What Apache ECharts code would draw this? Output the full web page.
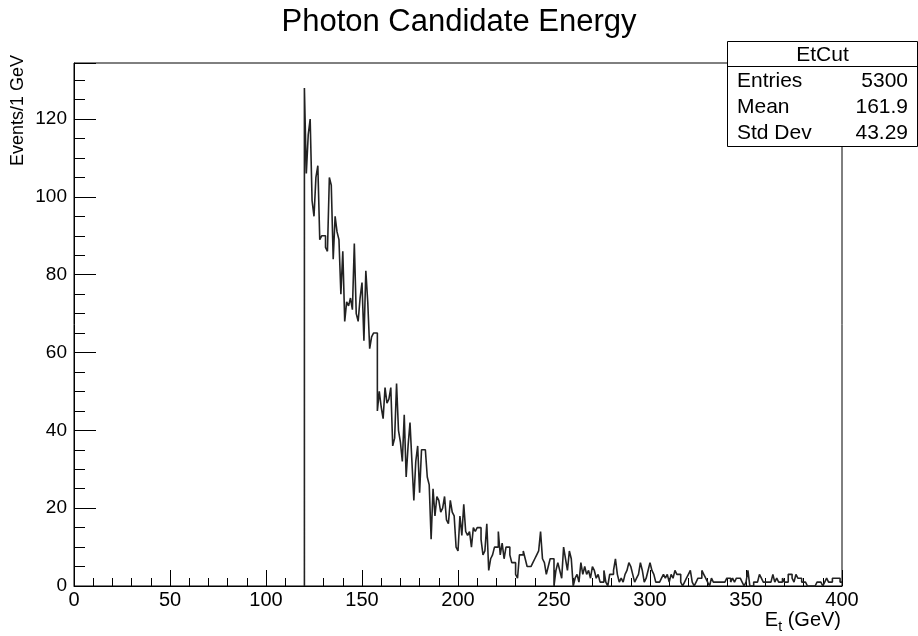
<!DOCTYPE html>
<html><head><meta charset="utf-8">
<script src="https://cdn.jsdelivr.net/npm/echarts@6/dist/echarts.min.js"></script>
<style>html,body{margin:0;padding:0;background:#fff}#c{width:918px;height:636px}</style>
</head><body><div id="c"></div>
<script>
const chartTitle = 'Photon Candidate Energy';
const histName = 'EtCut';
const xTitleMain = 'E';
const xTitleSub = 't';
const xTitleRest = ' (GeV)';
const yTitle = 'Events/1 GeV';
const statLabels = ['Entries', 'Mean', 'Std Dev'];
const statValues = ['5300', '161.9', '43.29'];
const xMin = 0, xMax = 400, xMajor = 50;
const yMin = 0, yMax = 134.4, yMajor = 20, yMinor = 5;
const binLow = 120;
const binWidth = 1;
const counts = [
  128,106,116,120, 99, 95,105,108, 89, 90,
   90, 87, 86,105,103, 84, 95, 91, 89, 75,
   86, 68, 73, 72, 74, 71, 88, 70, 68, 74,
   78, 63, 81, 73, 61, 64, 65, 65, 45, 50,
   46, 43, 51, 47, 48, 51, 36, 38, 52, 40,
   37, 32, 44, 28, 36, 42, 32, 22, 32, 36,
   24, 35, 35, 35, 28, 26, 12, 25, 18, 23,
   22, 19, 20, 23, 17, 16, 22, 19, 18, 10,
    9, 18, 13, 21, 14, 13, 14, 10, 15, 14,
   15, 15, 12,  8,  9, 16,  4,  7,  8, 10,
   10, 14,  8, 11,  7, 10, 10,  8,  6,  6,
    3,  2,  8,  8,  9,  7,  5,  5,  5,  6,
    7,  8,  9, 14,  7,  6,  3,  5,  7,  7,
    0,  4,  6,  4,  2, 10,  7,  4,  9,  7,
    0,  2,  3,  1,  6,  3,  5,  3,  4,  2,
    5,  4,  2,  3,  1,  1,  4,  1,  0,  3,
    3,  4,  7,  3,  1,  2,  1,  3,  4,  6,
    5,  3,  1,  2,  3,  6,  4,  1,  2,  4,
    6,  4,  3,  1,  1,  1,  2,  3,  2,  3,
    1,  3,  2,  4,  3,  3,  1,  0,  1,  2,
    3,  4,  1,  0,  1,  2,  2,  4,  3,  2,
    1,  0,  2,  1,  1,  1,  1,  1,  1,  1,
    2,  2,  1,  2,  1,  2,  2,  2,  1,  0,
    1,  4,  0,  0,  1,  1,  1,  3,  2,  1,
    1,  1,  1,  1,  3,  1,  2,  1,  1,  2,
    1,  1,  3,  3,  2,  1,  3,  2,  2,  1,
    1,  1,  0,  0,  0,  0,  0,  1,  1,  1,
    0,  1,  2,  1,  1,  2,  2,  2,  2,  1
];

const FONT = '"Liberation Sans", Arial, Helvetica, sans-serif';
// histogram outline: each bin contributes its low and high edge at its count
const stepData = [[binLow, 0]];
counts.forEach((c, i) => {
  stepData.push([binLow + i * binWidth, c]);
  stepData.push([binLow + (i + 1) * binWidth, c]);
});

const G = {left: 74, top: 63, width: 768, height: 523};
const box = {x: 727.5, y: 41.5, w: 190, h: 105, sep: 66.5};

const graphics = [
  {type: 'rect', shape: {x: box.x, y: box.y, width: box.w, height: box.h},
   style: {fill: '#fff', stroke: '#000', lineWidth: 1}, z: 100},
  {type: 'line', shape: {x1: box.x, y1: box.sep, x2: box.x + box.w, y2: box.sep},
   style: {stroke: '#000', lineWidth: 1}, z: 101},
  {type: 'text', x: box.x + box.w / 2, y: 55, z: 102,
   style: {text: histName, font: '21px ' + FONT, fill: '#000', align: 'center', verticalAlign: 'middle'}}
];
const rowY = [81, 107, 133];
statLabels.forEach((lab, i) => {
  graphics.push({type: 'text', x: 737, y: rowY[i], z: 102,
    style: {text: lab, font: '21px ' + FONT, fill: '#000', align: 'left', verticalAlign: 'middle'}});
  graphics.push({type: 'text', x: 908, y: rowY[i], z: 102,
    style: {text: statValues[i], font: '21px ' + FONT, fill: '#000', align: 'right', verticalAlign: 'middle'}});
});
graphics.push({type: 'text', x: 459, y: 22, z: 102,
  style: {text: chartTitle, font: '31px ' + FONT, fill: '#000', align: 'center', verticalAlign: 'middle'}});
graphics.push({type: 'text', x: 18, y: 55, rotation: Math.PI / 2, z: 102,
  style: {text: yTitle, font: '18px ' + FONT, fill: '#000', align: 'right', verticalAlign: 'middle'}});
graphics.push({type: 'text', x: 841, y: 620, z: 102,
  style: {
    text: '{m|' + xTitleMain + '}{s|' + xTitleSub + '}{m|' + xTitleRest + '}',
    align: 'right', verticalAlign: 'middle', fill: '#000',
    rich: {
      m: {fontSize: 20, fontFamily: FONT, lineHeight: 28, verticalAlign: 'middle', fill: '#000', color: '#000'},
      s: {fontSize: 14, fontFamily: FONT, lineHeight: 12, verticalAlign: 'bottom', fill: '#000', color: '#000'}
    }
  }});

const chart = echarts.init(document.getElementById('c'), null, {renderer: 'canvas'});
chart.setOption({
  animation: false,
  backgroundColor: '#fff',
  grid: {left: G.left, top: G.top, width: G.width, height: G.height, containLabel: false,
         show: true, borderColor: '#000', borderWidth: 1, backgroundColor: 'transparent'},
  xAxis: {
    type: 'value', min: xMin, max: xMax, interval: xMajor,
    axisLine: {show: true, onZero: false, lineStyle: {color: '#000', width: 1}},
    axisTick: {show: true, inside: true, length: 16, lineStyle: {color: '#000', width: 1}},
    minorTick: {show: true, splitNumber: 5, length: 8, lineStyle: {color: '#000', width: 1}},
    axisLabel: {color: '#000', fontSize: 20, fontFamily: FONT, margin: 4},
    splitLine: {show: false}
  },
  yAxis: [{
    type: 'value', min: yMin, max: yMax, interval: yMajor,
    axisLine: {show: true, onZero: false, lineStyle: {color: '#000', width: 1}},
    axisTick: {show: true, inside: true, length: 22, lineStyle: {color: '#000', width: 1}},
    axisLabel: {color: '#000', fontSize: 19, fontFamily: FONT, margin: 7,
      formatter: v => (Math.abs(v % yMajor) < 1e-9 ? String(v) : '')},
    splitLine: {show: false}
  }, {
    type: 'value', min: yMin, max: yMax, interval: yMinor, position: 'left', offset: 0,
    axisLine: {show: false},
    axisTick: {show: true, inside: true, length: 11, lineStyle: {color: '#000', width: 1}},
    axisLabel: {show: false},
    splitLine: {show: false}
  }],
  series: [{
    type: 'line', data: stepData, yAxisIndex: 0,
    showSymbol: false, symbol: 'none', sampling: null,
    lineStyle: {color: '#222', width: 1.6},
    clip: true, z: 5
  }],
  graphic: graphics
});
</script></body></html>
